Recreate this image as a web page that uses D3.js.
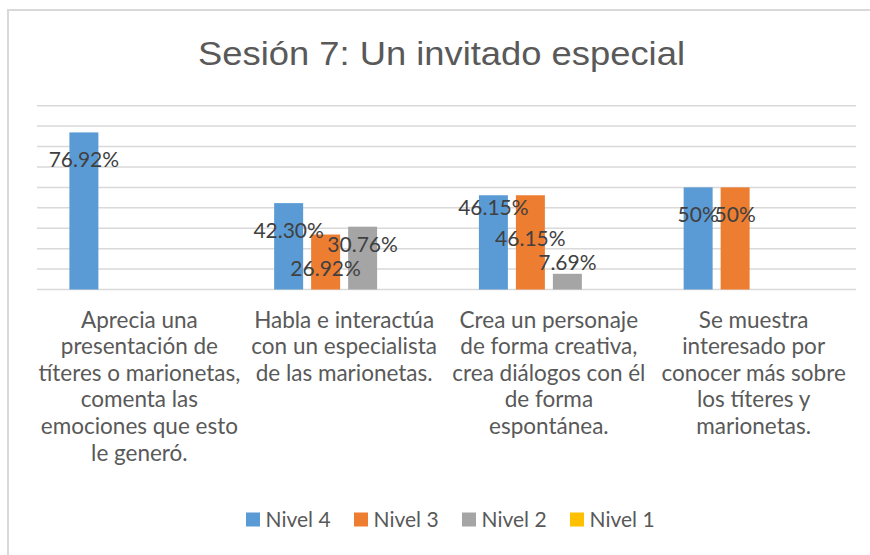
<!DOCTYPE html>
<html>
<head>
<meta charset="utf-8">
<script src="https://cdn.jsdelivr.net/npm/d3@7"></script>
<style>
  body { margin: 0; background: #fff; }
  svg { display: block; }
</style>
</head>
<body>
<svg id="chart" width="870" height="555"></svg>
<script>
// chart data
var title = "Sesión 7: Un invitado especial";
var categories = [
    "Aprecia una\npresentación de\ntíteres o marionetas,\ncomenta las\nemociones que esto\nle generó.",
    "Habla e interactúa\ncon un especialista\nde las marionetas.",
    "Crea un personaje\nde forma creativa,\ncrea diálogos con él\nde forma\nespontánea.",
    "Se muestra\ninteresado por\nconocer más sobre\nlos títeres y\nmarionetas."
];
var seriesNames = ["Nivel 4", "Nivel 3", "Nivel 2", "Nivel 1"];
var nivel4 = [76.92, 42.30, 46.15, 50];
var nivel3 = [null, 26.92, 46.15, 50];
var nivel2 = [null, 30.76, 7.69, null];
var nivel1 = [null, null, null, null];
var yTicks = [0, 10, 20, 30, 40, 50, 60, 70, 80, 90];

// hand placed data labels in the original: baseline offset below bar top
var labelNudge = [
    [34.5, 34.5, 19.5, 34.5],
    [0, 41, 51, 34.5],
    [0, 25.5, -3.7, 0],
    [0, 0, 0, 0]
];

var colors = ["#5B9BD5", "#ED7D31", "#A5A5A5", "#FFC000"];
var allSeries = [nivel4, nivel3, nivel2, nivel1];

var svg = d3.select("#chart");

// outer frame (only top/left show in the crop)
svg.append("rect")
    .attr("x", 8).attr("y", 10)
    .attr("width", 900).attr("height", 600)
    .attr("fill", "none")
    .attr("stroke", "#D9D9D9")
    .attr("stroke-width", 2);

svg.append("text")
    .attr("x", 441.5).attr("y", 64.5)
    .attr("text-anchor", "middle")
    .attr("font-family", "Liberation Sans, Arial, sans-serif")
    .attr("font-size", 33)
    .attr("textLength", 487)
    .attr("lengthAdjust", "spacingAndGlyphs")
    .attr("fill", "#595959")
    .text(title);

var x0 = d3.scaleBand().domain(d3.range(categories.length)).range([37, 856]);
var x1 = d3.scaleBand().domain(d3.range(seriesNames.length))
    .range([32.4, x0.bandwidth() - 32.4])
    .paddingInner(8 / 37);
var y = d3.scaleLinear().domain([0, 90]).range([289.5, 105.7]);

// gridlines
svg.append("g")
    .selectAll("line")
    .data(yTicks)
    .enter().append("line")
    .attr("x1", 37).attr("x2", 856)
    .attr("y1", function(d) { return y(d); })
    .attr("y2", function(d) { return y(d); })
    .attr("stroke", "#D9D9D9")
    .attr("stroke-width", 1.5);

var bars = [];
allSeries.forEach(function(s, si) {
    s.forEach(function(v, ci) {
        if (v != null) bars.push({s: si, c: ci, v: v});
    });
});

var group = svg.append("g");
group.selectAll("rect")
    .data(bars)
    .enter().append("rect")
    .attr("x", function(d) { return x0(d.c) + x1(d.s); })
    .attr("y", function(d) { return y(d.v); })
    .attr("width", x1.bandwidth())
    .attr("height", function(d) { return y(0) - y(d.v); })
    .attr("fill", function(d) { return colors[d.s]; });

function fmt(v) { return Number.isInteger(v) ? v + "%" : v.toFixed(2) + "%"; }

group.selectAll("text.lbl")
    .data(bars)
    .enter().append("text")
    .attr("class", "lbl")
    .attr("x", function(d) { return x0(d.c) + x1(d.s) + x1.bandwidth() / 2; })
    .attr("y", function(d) { return y(d.v) + labelNudge[d.s][d.c]; })
    .attr("text-anchor", "middle")
    .attr("font-family", "Lato, sans-serif")
    .attr("font-size", 21)
    .attr("fill", "#404040")
    .text(function(d) { return fmt(d.v); });

// category labels
var cats = svg.append("g")
    .selectAll("text")
    .data(categories)
    .enter().append("text")
    .attr("text-anchor", "middle")
    .attr("font-family", "Lato, sans-serif")
    .attr("font-size", 22.5)
    .attr("fill", "#595959");
cats.each(function(d, i) {
    var t = d3.select(this);
    d.split("\n").forEach(function(line, j) {
        t.append("tspan")
            .attr("x", x0(i) + x0.bandwidth() / 2)
            .attr("y", 327.5 + j * 26.65)
            .text(line);
    });
});

// legend
var lx = d3.scalePoint().domain(seriesNames).range([246, 570]);
var legend = svg.append("g")
    .selectAll("g")
    .data(seriesNames)
    .enter().append("g")
    .attr("transform", function(d) { return "translate(" + lx(d) + ",512.5)"; });
legend.append("rect")
    .attr("width", 14).attr("height", 14)
    .attr("fill", function(d, i) { return colors[i]; });
legend.append("text")
    .attr("x", 19.5).attr("y", 14)
    .attr("font-family", "Lato, sans-serif")
    .attr("font-size", 21)
    .attr("fill", "#595959")
    .text(function(d) { return d; });
</script>
</body>
</html>
